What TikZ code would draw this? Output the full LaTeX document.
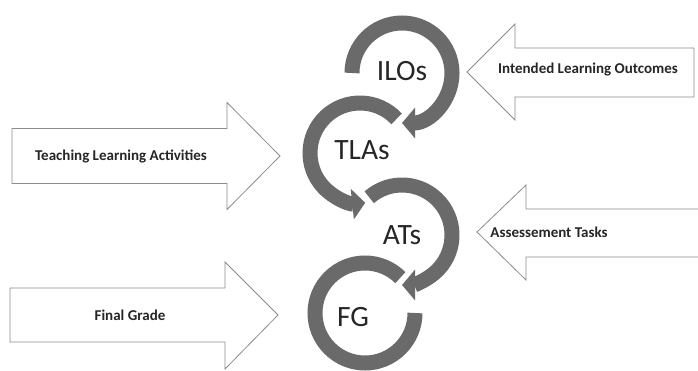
\documentclass[tikz,border=0pt]{standalone}
\usepackage{fontspec}
\setmainfont{Carlito}
\usepackage{tikz}
\usetikzlibrary{arrows.meta}
\definecolor{ringgray}{RGB}{106,106,106}
\definecolor{boxgray}{RGB}{140,140,140}

\begin{document}
\begin{tikzpicture}[x=1pt,y=1pt,semithick]
                  \tikzstyle{ring}=[line width=15pt,draw=ringgray,-{Triangle[length=13pt,width=30pt]}]
                  \tikzstyle{openring}=[line width=15pt,draw=ringgray]
                  \tikzstyle{blockarrow}=[draw=boxgray,fill=white,line width=0.8pt,line join=miter]
                  \tikzstyle{ringtext}=[text=black!85,font=\fontsize{29.5}{34}\selectfont]
                  \tikzstyle{boxtext}=[text=black!85,font=\bfseries\fontsize{15}{18}\selectfont]

                  \useasboundingbox (0,0) rectangle (698,370);

                  % ring centres
                  \coordinate (ILOc) at (402,297);
                  \coordinate (TLAc) at (360,217);
                  \coordinate (ATc)  at (402,135);
                  \coordinate (FGc)  at (365,57);

                  \node[ringtext] (ILO) at (402,299) {ILOs};
                  \node[ringtext] (TLA) at (362,220) {TLAs};
                  \node[ringtext] (AT)  at (402,135) {ATs};
                  \node[ringtext] (FG)  at (353,53)  {FG};

                  \draw[ring] ([shift={(180:50)}]ILOc) arc[start angle=180,end angle=-90,radius=50];
                  \draw[ring] ([shift={(43:50)}]TLAc) arc[start angle=43,end angle=276,radius=50];
                  \draw[ring] ([shift={(131:50)}]ATc) arc[start angle=131,end angle=-90,radius=50];
                  \draw[openring] ([shift={(45:50)}]FGc) arc[start angle=45,end angle=360,radius=50];

                  % block arrows
                  \draw[blockarrow] (694,273) -- (515,273) -- (515,250) -- (467,298) -- (515,346) -- (515,322) -- (694,322) -- cycle;
                  \draw[blockarrow] (12,186.5) -- (227,186.5) -- (227,160.5) -- (280,214) -- (227,267.5) -- (227,241.5) -- (12,241.5) -- cycle;
                  \draw[blockarrow] (702,113) -- (526,113) -- (526,90) -- (477,138) -- (526,185) -- (526,161) -- (702,161) -- cycle;
                  \draw[blockarrow] (10,28) -- (225,28) -- (225,1) -- (278,55) -- (225,108) -- (225,82) -- (10,82) -- cycle;

                  \node[boxtext] (ILOtext) at (588,300) {Intended Learning Outcomes};
                  \node[boxtext] (TLAtext) at (121,214) {Teaching Learning Activities};
                  \node[boxtext] (ATtext)  at (549,138) {Assessement Tasks};
                  \node[boxtext] (FGtext)  at (130,55)  {Final Grade};
\end{tikzpicture}
\end{document}
